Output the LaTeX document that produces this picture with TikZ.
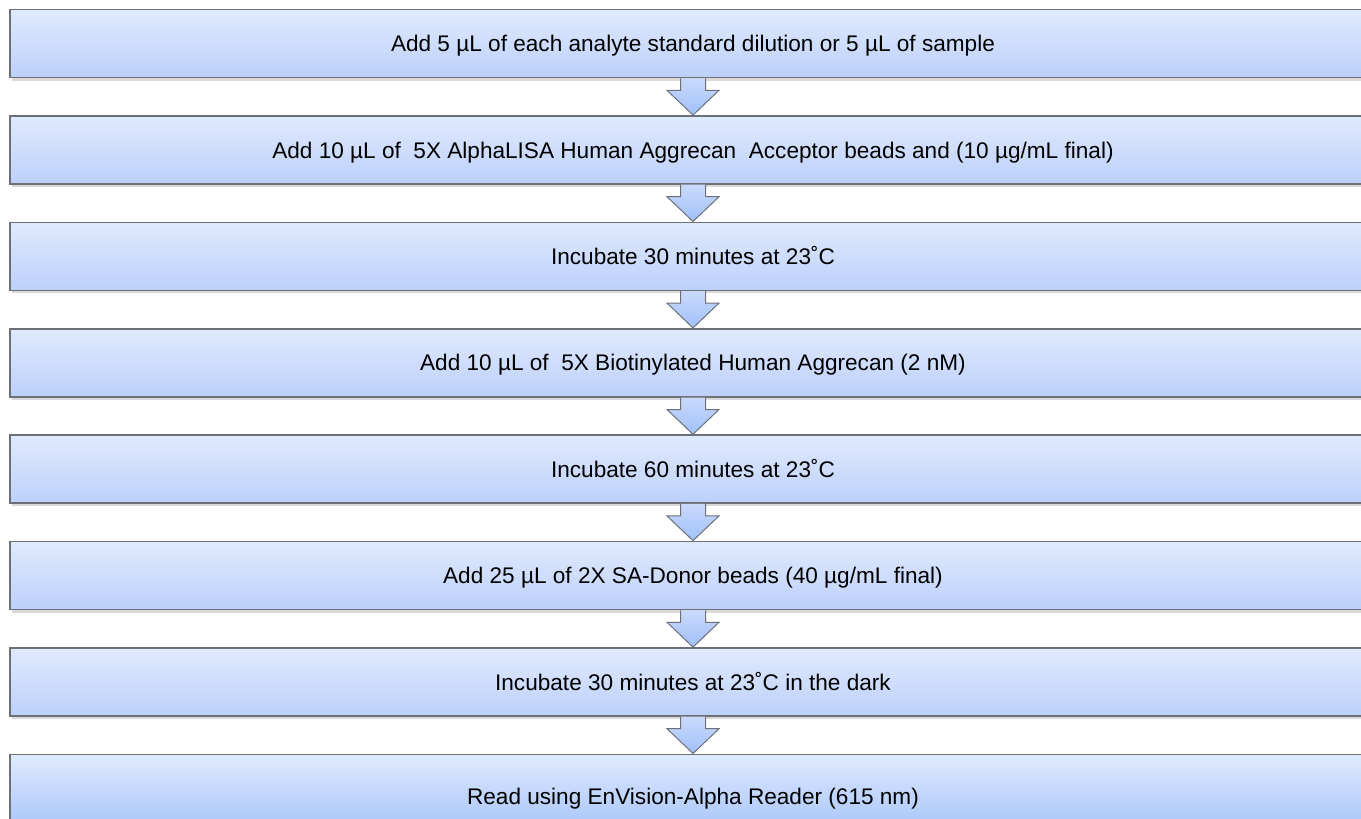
\documentclass[tikz,border=0pt]{standalone}
\usepackage{fontspec}
\setmainfont{Liberation Sans}
\usepackage{tikz}
\usetikzlibrary{positioning, calc, shadows}
\definecolor{stepTop}{RGB}{224, 234, 253}
\definecolor{stepBottom}{RGB}{188, 208, 250}
\definecolor{stepEdge}{RGB}{110, 112, 120}
\definecolor{arrowTip}{RGB}{160, 192, 250}
\tikzset{
    base/.style={
        font=\fontsize{22.6}{27}\selectfont,
        align=center
    },
    stepbox/.style={
        base,
        rectangle,
        draw=stepEdge,
        line width=1.6pt,
        top color=stepTop,
        bottom color=stepBottom,
        minimum width=1366pt,
        minimum height=68pt,
        text height=16.2pt,
        text depth=0pt,
        inner sep=0pt,
        drop shadow={opacity=0.3, shadow xshift=1.5pt, shadow yshift=-3pt}
    },
    downarrow/.style={
        draw=stepEdge,
        line width=1pt,
        line join=miter,
        top color=stepBottom!80!white,
        bottom color=arrowTip
    }
}

\begin{document}
\begin{tikzpicture}[x=1pt, y=1pt]
    \useasboundingbox (0,0) rectangle (1361,-819);

    % Steps
    \node[stepbox] (s1) at (693,-43.5) {Add 5 µL of each analyte standard dilution or 5 µL of sample};
    \node[stepbox, below=36.8pt of s1] (s2) {Add 10 µL of~ 5X AlphaLISA Human Aggrecan~ Acceptor beads and (10 µg/mL final)};
    \node[stepbox, below=36.8pt of s2] (s3) {Incubate 30 minutes at 23˚C};
    \node[stepbox, below=36.8pt of s3] (s4) {Add 10 µL of~ 5X Biotinylated Human Aggrecan (2 nM)};
    \node[stepbox, below=36.8pt of s4] (s5) {Incubate 60 minutes at 23˚C};
    \node[stepbox, below=36.8pt of s5] (s6) {Add 25 µL of 2X SA-Donor beads (40 µg/mL final)};
    \node[stepbox, below=36.8pt of s6] (s7) {Incubate 30 minutes at 23˚C in the dark};
    \node[stepbox, below=36.8pt of s7, minimum height=84pt, bottom color=arrowTip] (s8) {Read using EnVision-Alpha Reader (615 nm)};

    % Block arrows between steps
    \foreach \a/\b in {s1/s2, s2/s3, s3/s4, s4/s5, s5/s6, s6/s7, s7/s8} {
        \draw[downarrow] ($(\a.south)+(-12.5,0)$) -- ++(0,-12) -- ++(-13.5,0)
            -- (\b.north) -- ($(\a.south)+(26,-12)$) -- ++(-13.5,0) -- ($(\a.south)+(12.5,0)$);
    }

\end{tikzpicture}
\end{document}
